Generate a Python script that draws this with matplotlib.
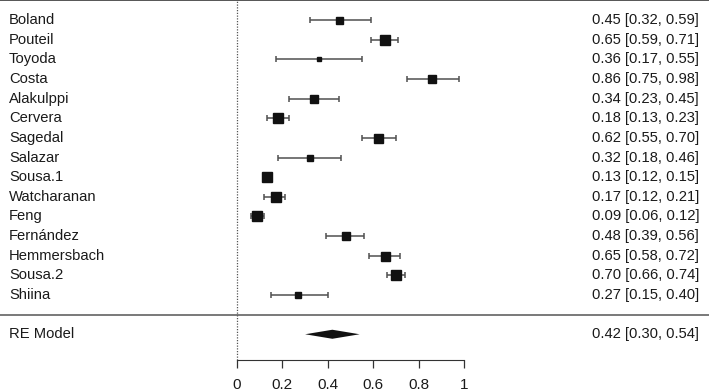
import matplotlib
matplotlib.use("Agg")
import matplotlib.pyplot as plt
import numpy as np

plt.rcParams['font.family'] = ['Liberation Sans', 'DejaVu Sans']

# study data (proportion estimates with 95% CI)
studies = ['Boland', 'Pouteil', 'Toyoda', 'Costa', 'Alakulppi', 'Cervera',
           'Sagedal', 'Salazar', 'Sousa.1', 'Watcharanan', 'Feng',
           'Fernández', 'Hemmersbach', 'Sousa.2', 'Shiina']
est = [0.45, 0.65, 0.36, 0.86, 0.34, 0.18, 0.62, 0.32, 0.13, 0.17, 0.09,
       0.48, 0.65, 0.70, 0.27]
lower = [0.32, 0.59, 0.17, 0.75, 0.23, 0.13, 0.55, 0.18, 0.12, 0.12, 0.06,
         0.39, 0.58, 0.66, 0.15]
upper = [0.59, 0.71, 0.55, 0.98, 0.45, 0.23, 0.70, 0.46, 0.15, 0.21, 0.12,
         0.56, 0.72, 0.74, 0.40]
# square size (relative weight, in pixels)
box_px = [7, 9.5, 3.5, 7.5, 7.5, 9.5, 9, 6, 10, 9.5, 10, 8, 9, 10, 6.5]

re_label = 'RE Model'
re_est, re_lo, re_hi = 0.42, 0.30, 0.54

xticks = [0, 0.2, 0.4, 0.6, 0.8, 1]
xticklabels = ['0', '0.2', '0.4', '0.6', '0.8', '1']

fig = plt.figure(figsize=(7.09, 3.92), dpi=100)
ax = fig.add_axes([0, 0, 1, 1])

n = len(studies)
rows = np.arange(n, 0, -1)
ax.set_xlim(-1.044, 2.079)
ax.set_ylim(-3.94, 16.02)

fs = 10.6
for y, name, e, lo, hi, s in zip(rows, studies, est, lower, upper, box_px):
    ax.errorbar([e], [y], xerr=[[e - lo], [hi - e]], fmt='none',
                ecolor='#505050', elinewidth=1.1, capsize=2.3, capthick=1.1)
    ax.plot([e], [y], marker='s', color='#111111', markersize=s * 0.72,
            linestyle='none')
    ax.text(-1.005, y, name, ha='left', va='center', fontsize=fs, color='#1a1a1a')
    ax.text(2.035, y, f'{e:.2f} [{lo:.2f}, {hi:.2f}]', ha='right', va='center',
            fontsize=fs, color='#1a1a1a')

# summary diamond
ry = -1
ax.fill([re_lo, re_est, re_hi, re_est], [ry, ry + 0.23, ry, ry - 0.23],
        color='#111111', lw=0)
ax.text(-1.005, ry, re_label, ha='left', va='center', fontsize=fs, color='#1a1a1a')
ax.text(2.035, ry, f'{re_est:.2f} [{re_lo:.2f}, {re_hi:.2f}]', ha='right',
        va='center', fontsize=fs, color='#1a1a1a')

# horizontal rules and reference line
ax.axhline(n + 1, color='#555555', lw=1.4)
ax.axhline(0, color='#555555', lw=1.1)
ax.plot([0, 0], [-2.31, n + 1], color='#555555', lw=0.9, linestyle=(0, (1, 1.2)))

# x-axis drawn as a floating spine
for side in ['top', 'right', 'left']:
    ax.spines[side].set_visible(False)
ax.spines['bottom'].set_position(('data', -2.31))
ax.spines['bottom'].set_bounds(0, 1)
ax.spines['bottom'].set_color('#333333')
ax.set_xticks(xticks)
ax.set_xticklabels(xticklabels, fontsize=fs + 0.4, color='#1a1a1a')
ax.tick_params(axis='x', length=5.8, width=0.9, color='#333333', pad=7.5)
ax.set_yticks([])
ax.patch.set_alpha(0)

fig.savefig('out.png', dpi=100)
